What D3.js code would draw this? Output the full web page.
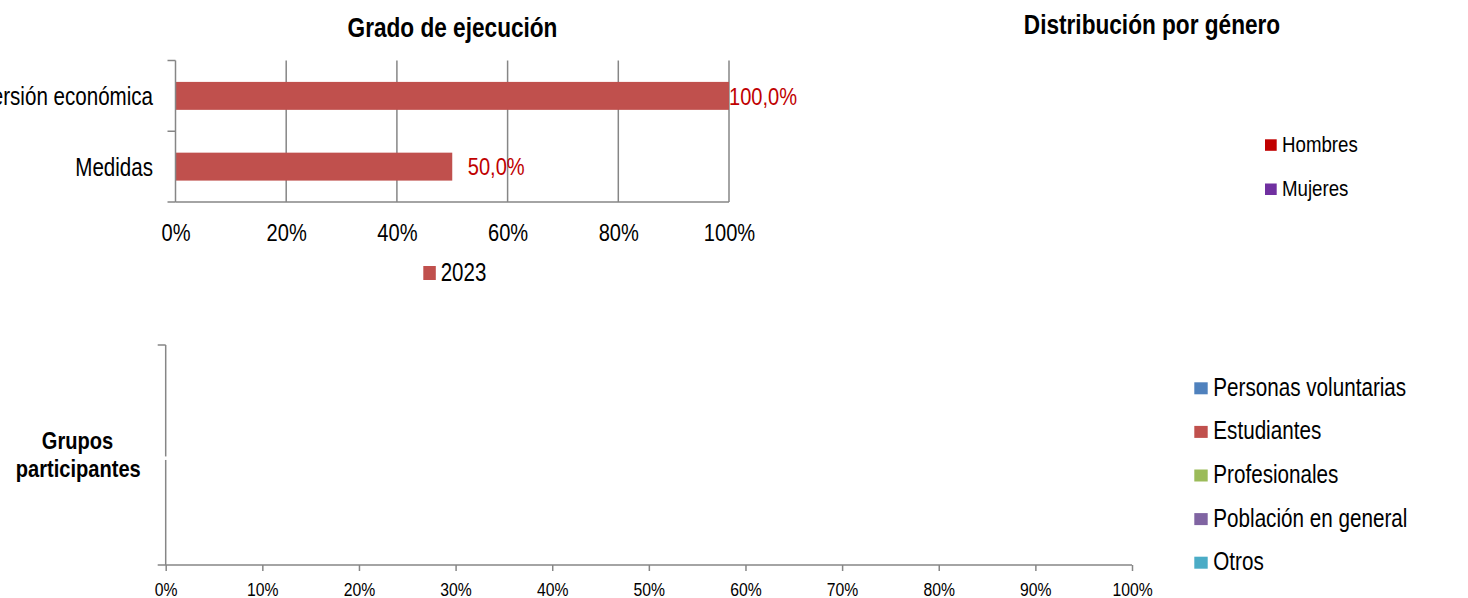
<!DOCTYPE html>
<html>
<head>
<meta charset="utf-8">
<script src="https://cdn.jsdelivr.net/npm/d3@7"></script>
<style>
  html, body { margin: 0; padding: 0; background: #fff; }
  svg { display: block; font-family: "Liberation Sans", Arial, sans-serif; }
</style>
</head>
<body>
<svg id="chart" width="1468" height="598"></svg>
<script>
// Grado de ejecución
const execCategories = ["Inversión económica", "Medidas"];
const execValues = [1.0, 0.5];
const execSeries = "2023";
const execTicks = [0, 0.2, 0.4, 0.6, 0.8, 1.0];

// Distribución por género
const genderCategories = ["Hombres", "Mujeres"];
const genderValues = [0, 0];

// Grupos participantes
const groupCategories = ["Personas voluntarias", "Estudiantes", "Profesionales", "Población en general", "Otros"];
const groupValues = [0, 0, 0, 0, 0];
const groupTicks = [0, 0.1, 0.2, 0.3, 0.4, 0.5, 0.6, 0.7, 0.8, 0.9, 1.0];

const svg = d3.select("#chart");
const gridColor = "#868686";
const SX = 0.82; // condensed lettering
const fmtLabel = v => d3.format(".1f")(v * 100).replace(".", ",") + "%";

// condensed text anchored at (x, y)
function narrowText(parent, x, y, str, size, opts = {}) {
  const t = parent.append("text")
    .attr("transform", `translate(${x},${y}) scale(${SX},1)`)
    .attr("font-size", size)
    .attr("text-anchor", opts.anchor || "start")
    .attr("fill", opts.fill || "#000")
    .text(str);
  if (opts.bold) t.attr("font-weight", "bold");
  return t;
}
// condense the tick labels produced by a d3 axis
function narrowAxisText(sel, size, xOff, yOff) {
  sel.selectAll("text")
    .attr("font-size", size).attr("fill", "#000").attr("font-family", null)
    .attr("dy", null).attr("x", xOff / SX).attr("y", yOff)
    .attr("transform", `scale(${SX},1)`);
}

// ---------- Grado de ejecución ----------
{
  const left = 175.5, right = 729, top = 60.5, bottom = 202;
  const x = d3.scaleLinear().domain([0, 1]).range([left, right]);
  const y = d3.scaleBand().domain(execCategories).range([top, bottom]).paddingInner(0.605).paddingOuter(0.3025);

  narrowText(svg, 452.5, 36.5, "Grado de ejecución", 27.6, { anchor: "middle", bold: true });

  const g = svg.append("g");
  // vertical gridlines
  g.selectAll("line.grid").data(execTicks.slice(1)).join("line")
    .attr("x1", d => x(d)).attr("x2", d => x(d)).attr("y1", top).attr("y2", bottom)
    .attr("stroke", gridColor).attr("stroke-width", 1.5);

  // bars
  g.selectAll("rect.bar").data(execValues).join("rect")
    .attr("x", x(0)).attr("y", (d, i) => y(execCategories[i]))
    .attr("width", d => x(d) - x(0)).attr("height", y.bandwidth())
    .attr("fill", "#C0504D");

  // value labels
  execValues.forEach((v, i) => {
    narrowText(g, Math.min(x(v) + 15.5, x(1)), y(execCategories[i]) + y.bandwidth() / 2 + 8.8,
      fmtLabel(v), 24.5, { fill: "#C00000" });
  });

  // category axis
  const yAxis = d3.axisLeft(d3.scalePoint().domain(execCategories).range([top, bottom]).padding(0.5))
    .tickSize(0).tickPadding(0);
  const ya = g.append("g").attr("transform", `translate(${left},0)`).call(yAxis);
  ya.select(".domain").remove();
  narrowAxisText(ya, 25.1, -22.5, 9);
  g.append("line").attr("x1", left).attr("x2", left).attr("y1", top).attr("y2", bottom)
    .attr("stroke", gridColor).attr("stroke-width", 1.5);
  g.selectAll("line.ytick").data([top, (top + bottom) / 2, bottom]).join("line")
    .attr("x1", left - 8).attr("x2", left).attr("y1", d => d).attr("y2", d => d)
    .attr("stroke", gridColor).attr("stroke-width", 1.5);

  // value axis
  const xAxis = d3.axisBottom(x).tickValues(execTicks).tickFormat(d3.format(".0%")).tickSize(0).tickPadding(0);
  const xa = g.append("g").attr("transform", `translate(0,${bottom})`).call(xAxis);
  xa.select(".domain").remove();
  narrowAxisText(xa, 24.5, 0, 39);
  g.append("line").attr("x1", left).attr("x2", right).attr("y1", bottom).attr("y2", bottom)
    .attr("stroke", gridColor).attr("stroke-width", 1.5);

  // legend
  const lg = svg.append("g").attr("transform", "translate(423.3,266)");
  lg.append("rect").attr("width", 12.5).attr("height", 14).attr("fill", "#C0504D");
  narrowText(lg, 17.4, 14.7, execSeries, 25);
}

// ---------- Distribución por género ----------
{
  narrowText(svg, 1152, 33.5, "Distribución por género", 27.6, { anchor: "middle", bold: true });

  const colors = ["#C00000", "#7030A0"];
  const pie = d3.pie().sort(null)(genderValues);
  const arc = d3.arc().innerRadius(0).outerRadius(90);
  svg.append("g").attr("transform", "translate(1080,170)")
    .selectAll("path").data(pie.filter(p => p.value > 0)).join("path")
    .attr("d", arc).attr("fill", p => colors[p.index]);

  const lg = svg.append("g").attr("transform", "translate(1265,139.3)");
  genderCategories.forEach((name, i) => {
    const row = lg.append("g").attr("transform", `translate(0,${i * 44.2})`);
    row.append("rect").attr("width", 11.7).attr("height", 11.5).attr("fill", colors[i]);
    narrowText(row, 17, 12.4, name, 22.8);
  });
}

// ---------- Grupos participantes ----------
{
  const left = 165.7, right = 1132, top = 345, bottom = 565;
  const colors = ["#4F81BD", "#C0504D", "#9BBB59", "#8064A2", "#4BACC6"];
  const x = d3.scaleLinear().domain([0, 1]).range([left, right]);
  const total = d3.sum(groupValues);
  const stacked = [];
  let acc = 0;
  groupValues.forEach((v, i) => {
    const share = total > 0 ? v / total : 0;
    stacked.push({ i, x0: acc, x1: acc + share });
    acc += share;
  });

  const g = svg.append("g");
  g.selectAll("rect.seg").data(stacked.filter(s => s.x1 > s.x0)).join("rect")
    .attr("x", s => x(s.x0)).attr("width", s => x(s.x1) - x(s.x0))
    .attr("y", top + 55).attr("height", bottom - top - 110)
    .attr("fill", s => colors[s.i]);

  // category axis
  g.append("line").attr("x1", left).attr("x2", left).attr("y1", top).attr("y2", bottom)
    .attr("stroke", gridColor).attr("stroke-width", 1.5);
  g.append("line").attr("x1", left - 8).attr("x2", left).attr("y1", top).attr("y2", top)
    .attr("stroke", gridColor).attr("stroke-width", 1.5);
  g.append("line").attr("x1", left - 2).attr("x2", left + 2).attr("y1", 458.2).attr("y2", 458.2)
    .attr("stroke", "#fff").attr("stroke-width", 3.5);

  narrowText(g, 77.5, 449.3, "Grupos", 24.5, { anchor: "middle", bold: true });
  narrowText(g, 78.3, 477.3, "participantes", 24.5, { anchor: "middle", bold: true });

  // value axis
  const xAxis = d3.axisBottom(x).tickValues(groupTicks).tickFormat(d3.format(".0%")).tickSize(6).tickPadding(0);
  const xa = g.append("g").attr("transform", `translate(0,${bottom})`).call(xAxis);
  xa.select(".domain").remove();
  xa.selectAll("line").attr("stroke", gridColor).attr("stroke-width", 1.5);
  narrowAxisText(xa, 19.2, 0, 31);
  g.append("line").attr("x1", left - 8).attr("x2", right).attr("y1", bottom).attr("y2", bottom)
    .attr("stroke", gridColor).attr("stroke-width", 1.5);

  // legend
  const lg = svg.append("g").attr("transform", "translate(1194.3,382.3)");
  groupCategories.forEach((name, i) => {
    const row = lg.append("g").attr("transform", `translate(0,${i * 43.6})`);
    row.append("rect").attr("width", 13.4).attr("height", 12).attr("fill", colors[i]);
    narrowText(row, 19, 13.4, name, 25.2);
  });
}
</script>
</body>
</html>
